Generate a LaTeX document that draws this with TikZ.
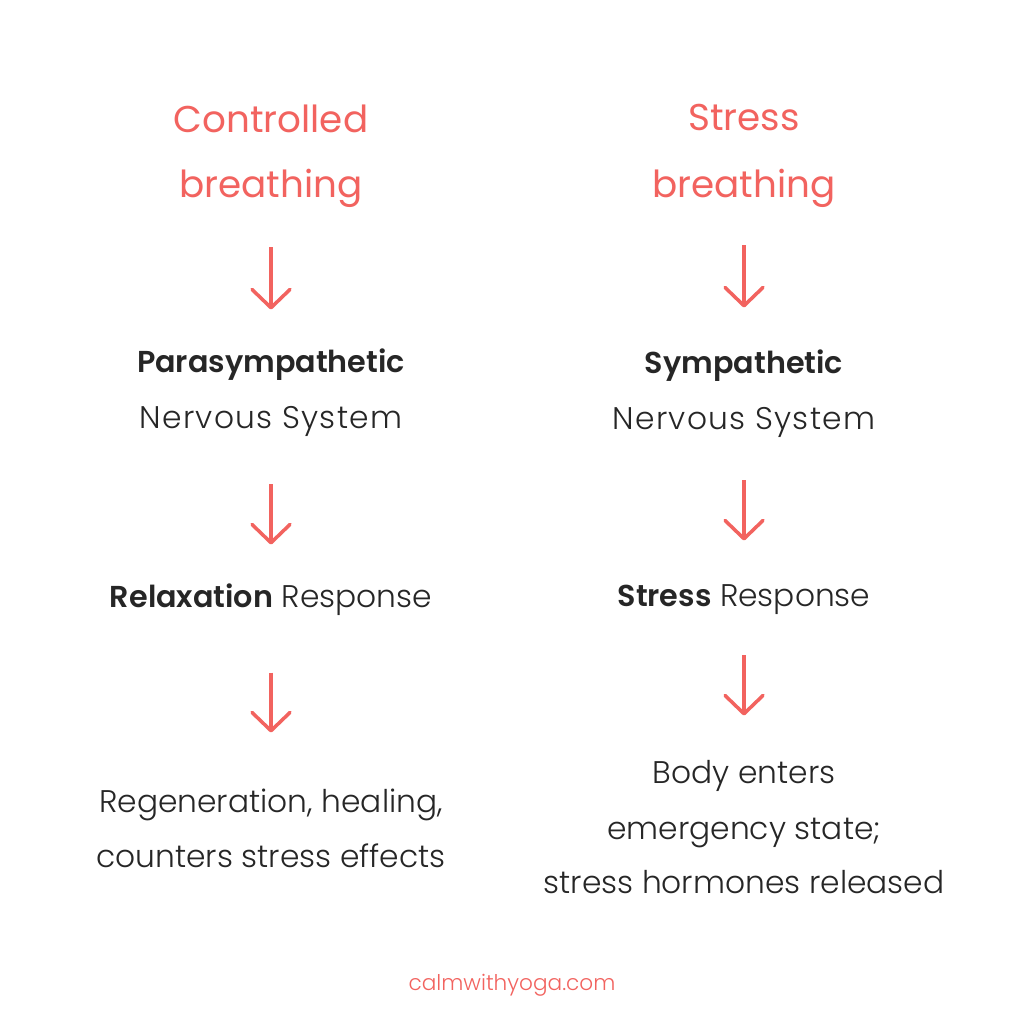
\documentclass[tikz,border=0pt]{standalone}
\usepackage{fontspec}
\setmainfont{Poppins}
\newfontfamily\thinfont{Poppins Light}
\newfontfamily\heavyfont{Poppins SemiBold}
\usetikzlibrary{arrows.meta}
\definecolor{coral}{RGB}{242,99,95}
\definecolor{ink}{RGB}{38,38,38}
\begin{document}
\begin{tikzpicture}
	[x=0.01cm,y=-0.01cm,
	txt/.style={inner sep=0pt,text height=0pt,text depth=0pt,anchor=base},
	title/.style={txt,text=coral,font=\fontsize{10.6}{12}\selectfont},
	head/.style={txt,text=ink,font=\heavyfont\fontsize{8.6}{10}\selectfont},
	body/.style={txt,text=ink,font=\thinfont\fontsize{8.9}{10}\selectfont},
	flow/.style={coral,line width=1pt,-{Straight Barb[length=5.2pt,width=10.8pt,round]}}]
	\fill[white] (0,0) rectangle (1024,1024);
	\useasboundingbox (0,0) rectangle (1024,1024);
	% controlled breathing
	\node[title,name=c1]at(271,132){Controlled};
	\node[title,name=c2]at(271,197){breathing};
	\node[head,name=c3]at(271,372){Parasympathetic};
	\node[body,name=c4]at(271,428){\addfontfeature{LetterSpace=4}Nervous System};
	\node[body,name=c5]at(271,607){{\heavyfont\fontsize{8.6}{10}\selectfont Relaxation} Response};
	\node[body,name=c6]at(271,812){Regeneration, healing,};
	\node[body,name=c7]at(271,867){counters stress effects};
	% stress breathing
	\node[title,name=s1]at(744,130){Stress};
	\node[title,name=s2]at(744,197){breathing};
	\node[head,name=s3]at(744,373){Sympathetic};
	\node[body,name=s4]at(744,429){\addfontfeature{LetterSpace=4}Nervous System};
	\node[body,name=s5]at(744,606){{\heavyfont\fontsize{8.6}{10}\selectfont Stress} Response};
	\node[body,name=s6]at(744,783){Body enters};
	\node[body,name=s7]at(744,839){emergency state;};
	\node[body,name=s8]at(744,893){stress hormones released};
	\node[txt,name=web,text=coral,font=\thinfont\fontsize{6.15}{8}\selectfont]at(512,990){calmwithyoga.com};
	\draw[flow,shorten <=0.48cm,shorten >=0.60cm] (c2)--(c3);
	\draw[flow,shorten <=0.54cm,shorten >=0.60cm] (c4)--(c5);
	\draw[flow,shorten <=0.63cm,shorten >=0.77cm] (c5)--(c6);
	\draw[flow,shorten <=0.46cm,shorten >=0.63cm] (s2)--(s3);
	\draw[flow,shorten <=0.49cm,shorten >=0.63cm] (s4)--(s5);
	\draw[flow,shorten <=0.47cm,shorten >=0.65cm] (s5)--(s6);
\end{tikzpicture}
\end{document}
